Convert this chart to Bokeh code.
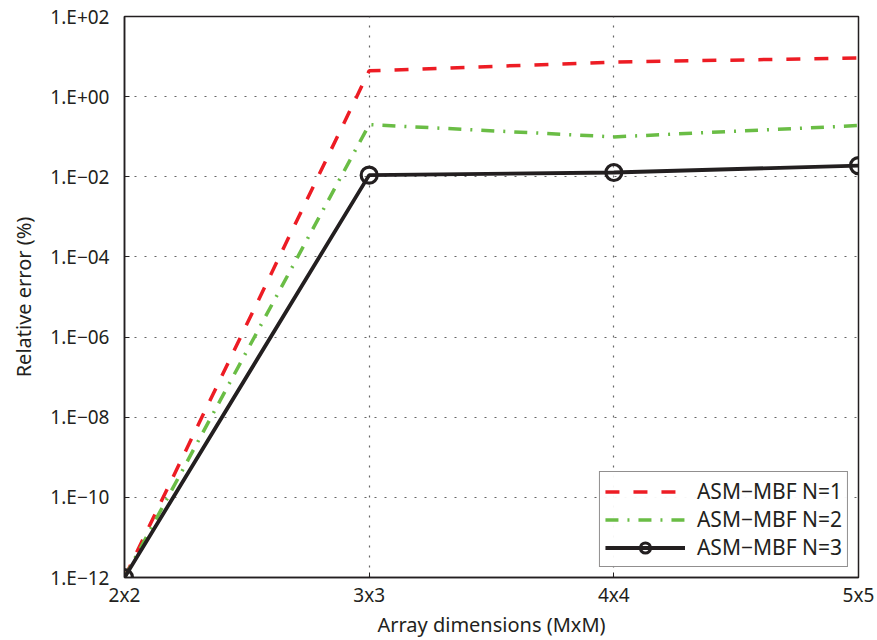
from bokeh.plotting import figure
from bokeh.models import FixedTicker, Legend, LegendItem
from bokeh.embed import file_html
from bokeh.resources import INLINE

# Array sizes on the x axis and relative errors (%) for each MBF order
categories = ["2x2", "3x3", "4x4", "5x5"]
err_n1 = [1e-12, 4.4, 7.3, 9.2]
err_n2 = [1e-12, 0.20, 0.099, 0.19]
err_n3 = [1e-12, 0.011, 0.0128, 0.019]
y_ticks = [1e-12, 1e-10, 1e-08, 1e-06, 1e-04, 1e-02, 1e+00, 1e+02]
y_tick_labels = ["1.E\u221212", "1.E\u221210", "1.E\u221208", "1.E\u221206",
                 "1.E\u221204", "1.E\u221202", "1.E+00", "1.E+02"]
series_names = ["ASM\u2212MBF N=1", "ASM\u2212MBF N=2", "ASM\u2212MBF N=3"]

FONT = "Noto Sans"
INK = "#231f20"

xs = list(range(len(categories)))

p = figure(width=877, height=640, y_axis_type="log",
           x_range=(0, len(categories) - 1), y_range=(1e-12, 1e2),
           output_backend="svg", toolbar_location=None,
           min_border_left=124, min_border_right=19,
           min_border_top=16, min_border_bottom=62)
p.background_fill_color = "white"
p.border_fill_color = "white"
p.outline_line_color = INK
p.outline_line_width = 1.5

# Axes: ticks point inward
for ax in (p.xaxis[0], p.yaxis[0]):
    ax.major_tick_in = 5
    ax.major_tick_out = 0
    ax.minor_tick_in = 0
    ax.minor_tick_out = 0
    ax.axis_line_color = INK
    ax.axis_line_width = 1.5
    ax.major_tick_line_color = INK
    ax.major_label_text_font = FONT
    ax.major_label_text_font_size = "19px"
    ax.major_label_text_color = INK
    ax.major_label_text_line_height = 1.0
    ax.axis_label_text_font = FONT
    ax.axis_label_text_font_size = "20px"
    ax.axis_label_text_font_style = "normal"
    ax.axis_label_text_color = INK
    ax.axis_label_text_line_height = 1.0

p.xaxis.ticker = FixedTicker(ticks=xs)
p.xaxis.major_label_overrides = {i: c for i, c in zip(xs, categories)}
p.xaxis.axis_label = "Array dimensions (MxM)"
p.xaxis.major_label_standoff = 4
p.xaxis.axis_label_standoff = 0

p.yaxis.ticker = FixedTicker(ticks=y_ticks)
p.yaxis.major_label_overrides = {t: l for t, l in zip(y_ticks, y_tick_labels)}
p.yaxis.axis_label = "Relative error (%)"
p.yaxis.major_label_standoff = 15
p.yaxis.axis_label_standoff = 10

# Dotted grid at major ticks
for g in (p.xgrid[0], p.ygrid[0]):
    g.grid_line_color = "#555555"
    g.grid_line_dash = "2 8"
    g.grid_line_width = 1.2
    g.grid_line_alpha = 0.9
p.xgrid.ticker = FixedTicker(ticks=xs)
p.ygrid.ticker = FixedTicker(ticks=y_ticks)

r1 = p.line(xs, err_n1, line_color="#ed1c24", line_width=3.5, line_dash="14 14")
r2 = p.line(xs, err_n2, line_color="#6abd45", line_width=3.5, line_dash="13 9 2 9")
r3 = p.line(xs, err_n3, line_color=INK, line_width=3.8)
r3m = p.scatter(xs, err_n3, marker="circle", size=16, line_color=INK, line_width=3.2,
                fill_alpha=0)

legend = Legend(items=[LegendItem(label=series_names[0], renderers=[r1]),
                       LegendItem(label=series_names[1], renderers=[r2]),
                       LegendItem(label=series_names[2], renderers=[r3, r3m])],
                location="bottom_right")
legend.label_text_font = FONT
legend.label_text_font_size = "21px"
legend.label_text_color = INK
legend.label_height = 25
legend.border_line_color = INK
legend.border_line_width = 1.5
legend.glyph_width = 80
legend.glyph_height = 25
legend.spacing = 0
legend.padding = 5
legend.margin = 10
legend.label_standoff = 12
p.add_layout(legend)

open("out.html", "w").write(file_html(p, INLINE))
